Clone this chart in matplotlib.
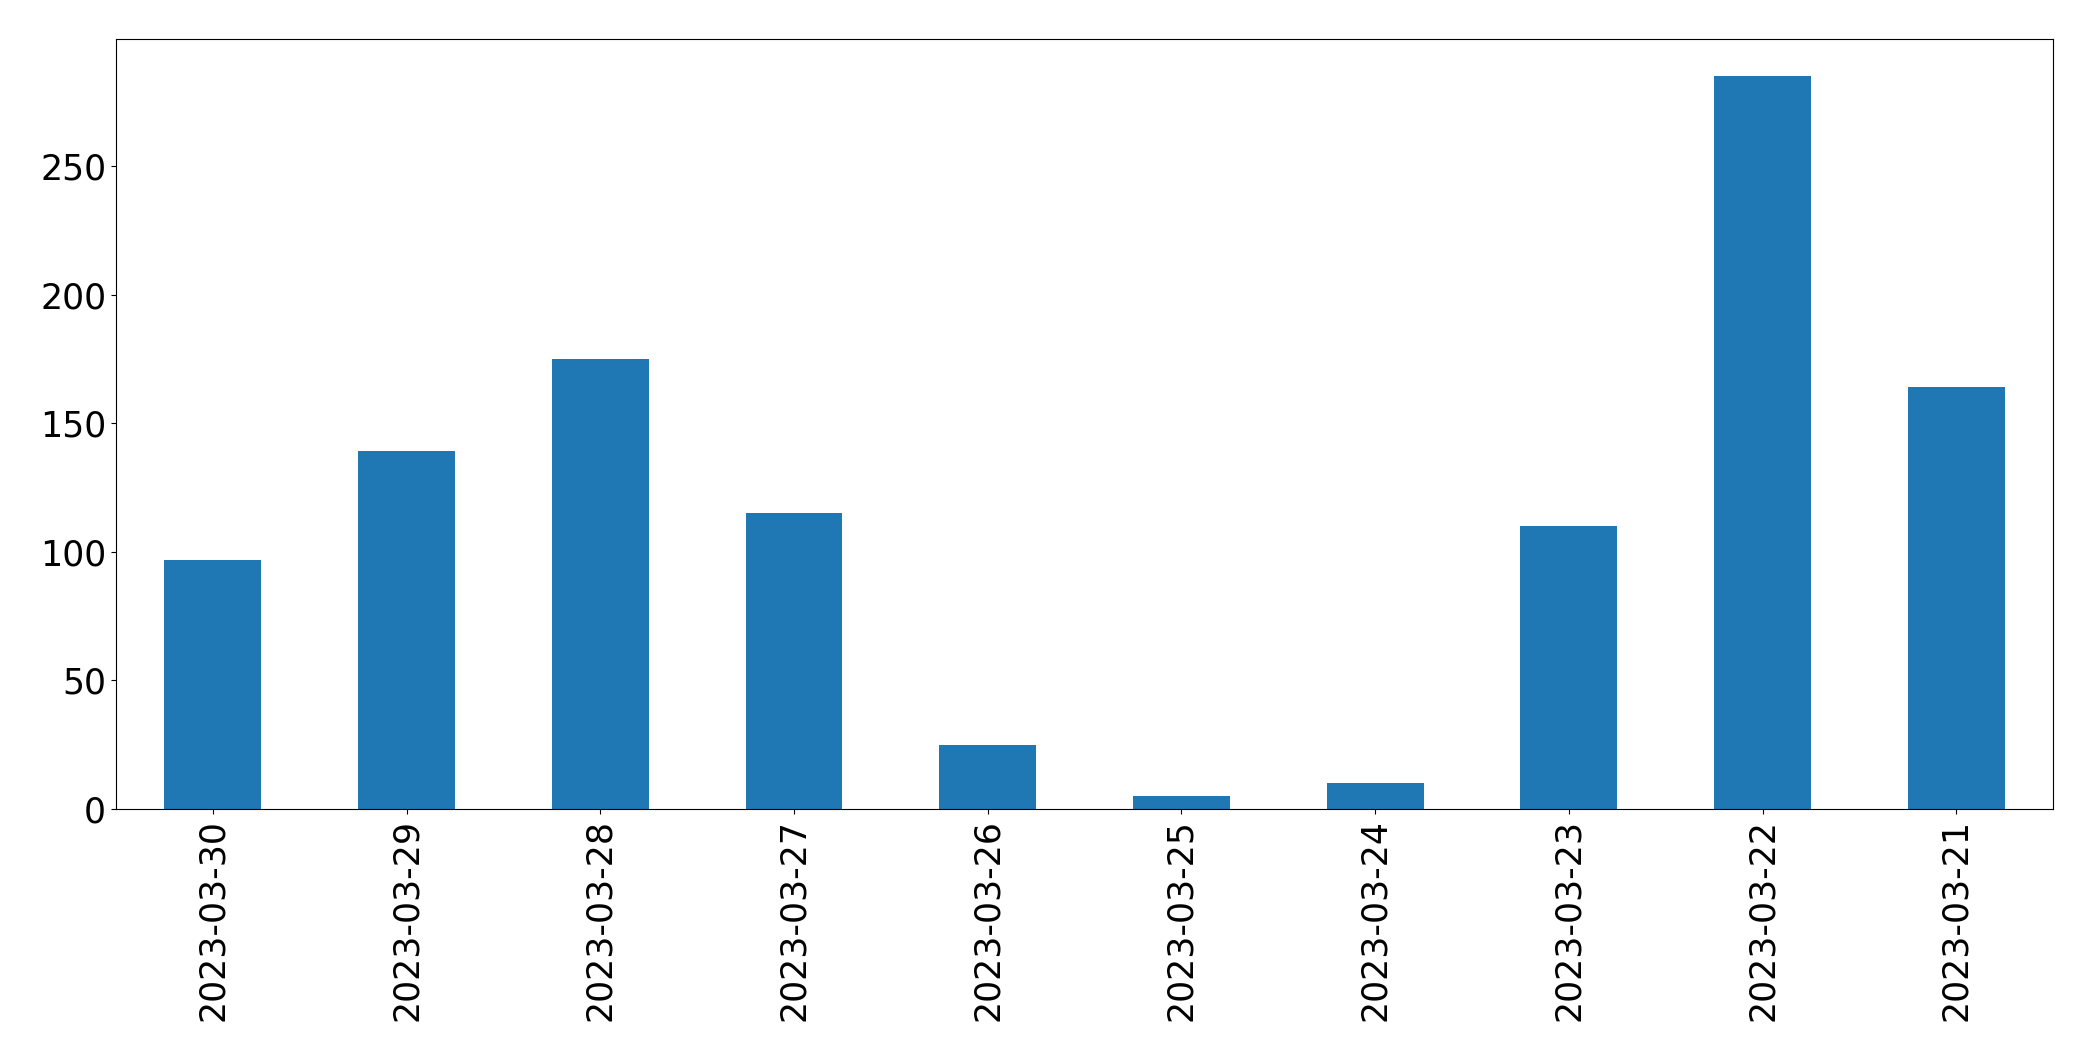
import matplotlib
matplotlib.use("Agg")
import matplotlib.pyplot as plt
import pandas as pd

dates = ["2023-03-30", "2023-03-29", "2023-03-28", "2023-03-27", "2023-03-26",
         "2023-03-25", "2023-03-24", "2023-03-23", "2023-03-22", "2023-03-21"]
counts = [97, 139, 175, 115, 25, 5, 10, 110, 285, 164]


def main():
    s = pd.Series(counts, index=dates)

    fig = plt.figure(figsize=(20.93, 10.61), dpi=100)
    ax = fig.add_axes([0.0554, 0.2375, 0.9256, 0.7255])
    s.plot(kind="bar", ax=ax, color="#1f77b4", fontsize=25)
    ax.tick_params(axis="both", labelsize=25)

    fig.savefig("out.png", dpi=100)


if __name__ == "__main__":
    main()
